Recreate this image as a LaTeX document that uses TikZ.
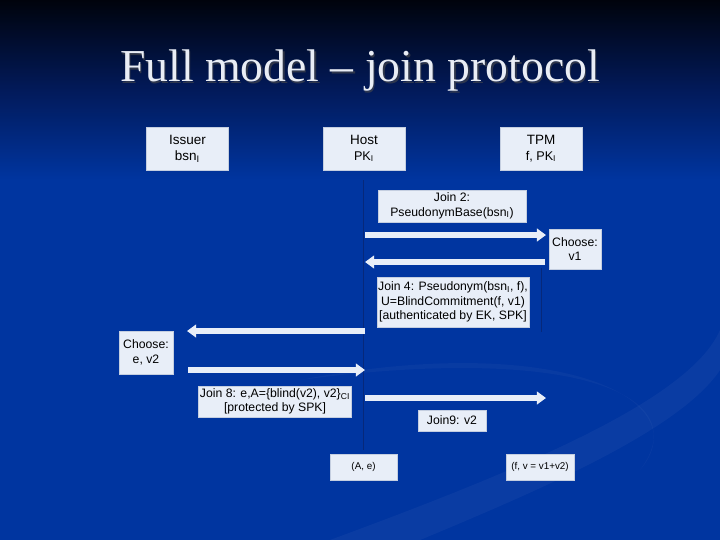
\documentclass[tikz,border=0pt]{standalone}
\usepackage{fontspec}
\setmainfont{Liberation Serif}
\setsansfont{Liberation Sans}
\usetikzlibrary{arrows.meta,positioning}
\definecolor{bgTop}  {HTML}{00030C}
\definecolor{bgMid}  {HTML}{021A5A}
\definecolor{bgBlue} {HTML}{0035A0}
\definecolor{boxFill}{HTML}{E8EEF8}
\definecolor{boxLine}{HTML}{C4CEE0}
\definecolor{lifeLn} {HTML}{06287A}
\definecolor{ttlInk} {HTML}{E9EDF5}
\newcommand{\sub}[1]{\textsubscript{#1}}

\begin{document}
\begin{tikzpicture}[x=0.025cm,y=-0.025cm,
    msgbox/.style={draw=boxLine,fill=boxFill,line width=0.3pt,align=center,
      inner sep=1pt,font=\sffamily\fontsize{8.7}{10.3}\selectfont},
    party/.style={msgbox,minimum width=2.05cm,minimum height=1.08cm,
      font=\sffamily\fontsize{9.6}{11.5}\selectfont},
    small/.style={font=\sffamily\fontsize{7}{8.5}\selectfont},
    msgarrow/.style={-{Triangle[width=9pt,length=6.5pt]},boxFill,line width=3.6pt}]
  \useasboundingbox (0,0) rectangle (720,540);
  % background
  \fill[bgBlue] (0,0) rectangle (720,540);
  \shade[top color=bgTop,bottom color=bgMid] (0,0) rectangle (720,90);
  \shade[top color=bgMid,bottom color=bgBlue] (0,90) rectangle (720,180);
  \fill[white,opacity=0.04] (330,540) .. controls (520,470) and (690,400) .. (720,330)
    -- (720,370) .. controls (680,430) and (540,490) .. (420,540) -- cycle;
  \fill[white,opacity=0.03] (300,380) .. controls (560,330) and (700,400) .. (640,470)
    .. controls (700,390) and (560,345) .. (300,380) -- cycle;

  \node[text=black!70,opacity=0.6,font=\fontsize{32.5}{38}\selectfont] at (361.5,72.5)
    {Full model -- join protocol};
  \node[text=ttlInk,font=\fontsize{32.5}{38}\selectfont] (title) at (360,71)
    {Full model -- join protocol};

  % parties
  \node[party] (issuer) at (187.5,148.5) {Issuer\\bsn\sub{I}};
  \node[party] (host) at (364,148.5) {Host\\{\small PK\sub{I}}};
  \node[party] (tpm) at (541,148.5) {TPM\\{\small f, PK\sub{I}}};

  % lifelines
  \draw[lifeLn,line width=0.6pt] (363,180) -- (363,450);
  \draw[lifeLn,line width=0.6pt] (541,268) -- (541,332);

  % messages
  \node[msgbox,minimum width=3.7cm,minimum height=0.8cm] (join2) at (452,206)
    {Join 2:\\PseudonymBase(bsn\sub{I})};
  \node[msgbox,minimum width=1.3cm,minimum height=1cm] (choose1) at (575,249)
    {Choose:\\v1};
  \node[msgbox,minimum width=3.75cm,minimum height=1.25cm] (join4) at (453,302)
    {Join 4: Pseudonym(bsn\sub{I}, f),\\U=BlindCommitment(f, v1)\\{}[authenticated by EK, SPK]};
  \node[msgbox,minimum width=1.35cm,minimum height=1.08cm] (choose2) at (146,352.5)
    {Choose:\\e, v2};
  \node[msgbox,minimum width=3.75cm,minimum height=0.78cm] (join8) at (275,401.5)
    {Join 8: e,A=\{blind(v2), v2\}\sub{CI}\\{}[protected by SPK]};
  \node[msgbox,minimum width=1.7cm,minimum height=0.53cm] (join9) at (452,420.5)
    {Join9: v2};
  \node[msgbox,small,minimum width=1.68cm,minimum height=0.65cm] (hostOut) at (363.5,467)
    {(A, e)};
  \node[msgbox,small,minimum width=1.7cm,minimum height=0.65cm] (tpmOut) at (540,467)
    {(f, v = v1+v2)};

  % arrow ends on the lifelines
  \coordinate (h1) at (365,235);  \coordinate (t1) at (546,235);
  \coordinate (t2) at (545,262);  \coordinate (h2) at (365,262);
  \coordinate (h3) at (365,331);  \coordinate (i3) at (187,331);
  \coordinate (i4) at (188,370);  \coordinate (h4) at (365,370);
  \coordinate (h5) at (365,398);  \coordinate (t5) at (546,398);
  \draw[msgarrow] (h1) -- (t1);
  \draw[msgarrow] (t2) -- (h2);
  \draw[msgarrow] (h3) -- (i3);
  \draw[msgarrow] (i4) -- (h4);
  \draw[msgarrow] (h5) -- (t5);
\end{tikzpicture}
\end{document}
